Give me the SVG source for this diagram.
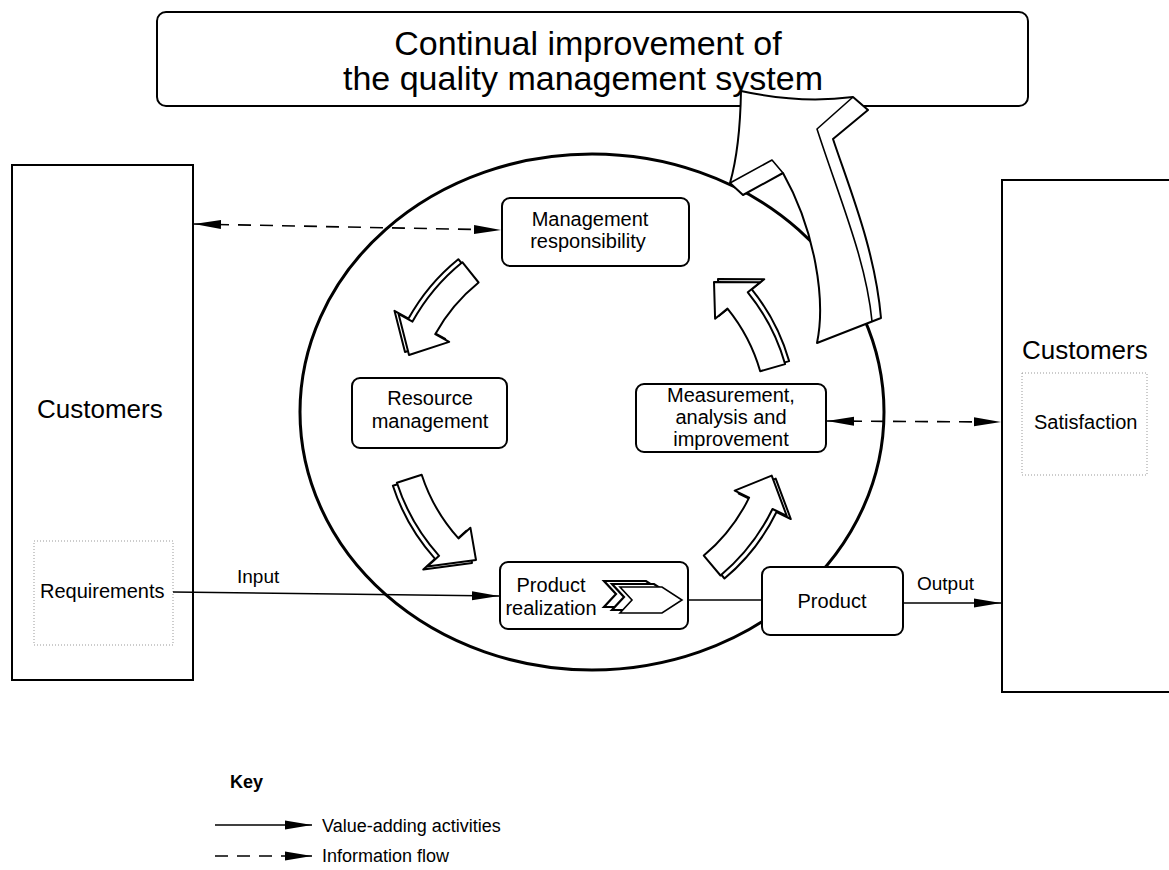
<svg xmlns="http://www.w3.org/2000/svg" width="1169" height="870" viewBox="0 0 1169 870">
<defs>
<style>
.box{fill:#fff;stroke:#000;stroke-width:2}
.cust{fill:none;stroke:#000;stroke-width:2}
.dot{fill:none;stroke:#999;stroke-width:1;stroke-dasharray:1 2}
.t{font-family:"Liberation Sans",Arial,sans-serif;fill:#000}
.line{fill:none;stroke:#000;stroke-width:1.6}
.dash{fill:none;stroke:#000;stroke-width:1.6;stroke-dasharray:13 9}
.arr{fill:#fff;stroke:#000;stroke-width:2;stroke-linejoin:round}
.thin{fill:none;stroke:#000;stroke-width:1.6;stroke-linejoin:round}
</style>
<marker id="ah" markerUnits="userSpaceOnUse" markerWidth="28" markerHeight="12" refX="27" refY="6" orient="auto-start-reverse" viewBox="0 0 28 12">
<path d="M0,1.5 L27,6 L0,10.5 Z" fill="#000"/>
</marker>
<path id="a1" d="M 462.3 262.2 A 203 203 0 0 0 412.5 321.6 L 398.5 313.8 L 409 355 L 449.2 341.9 L 435.2 334.2 A 177 177 0 0 1 478.6 282.5 Z"/>
<path id="a2" d="M 396.9 482.7 A 203 203 0 0 0 439.1 555.8 L 427.3 566.5 L 476 560 L 470.4 527.7 L 458.5 538.4 A 177 177 0 0 1 421.7 474.7 Z"/>
<path id="a3" d="M 720.5 575.5 A 203 203 0 0 0 772.5 509 L 786.8 516 L 771.7 475.6 L 734.7 490.6 L 749.1 497.6 A 177 177 0 0 1 703.8 555.6 Z"/>
<path id="a4" d="M 785.1 364.1 A 203 203 0 0 0 747.8 292.3 L 760.2 282.2 L 714 282 L 715.1 318.7 L 727.5 308.6 A 177 177 0 0 1 760.2 371.2 Z"/>
<polygon id="chev" points="620,587 662,587 682,600 662,613 620,613 632,600"/>
</defs>

<g id="continual-improvement">
<rect class="box" x="157" y="12" width="871" height="94" rx="9"/>
<text class="t" x="588" y="55" font-size="34" text-anchor="middle">Continual improvement of</text>
<text class="t" x="583" y="90" font-size="34" text-anchor="middle">the quality management system</text>
</g>

<g id="customers-left">
<rect class="cust" x="12" y="165" width="181" height="515"/>
<text class="t" x="37" y="418" font-size="26">Customers</text>
<rect class="dot" x="34" y="541" width="139" height="104"/>
<text class="t" x="40" y="598" font-size="20">Requirements</text>
</g>

<g id="customers-right">
<rect class="cust" x="1002" y="180" width="180" height="512"/>
<text class="t" x="1022" y="359" font-size="26">Customers</text>
<rect class="dot" x="1022" y="373" width="125" height="102"/>
<text class="t" x="1034" y="429" font-size="20">Satisfaction</text>
</g>

<g id="qms-circle">
<ellipse cx="592" cy="412" rx="292" ry="258" fill="none" stroke="#000" stroke-width="3"/>
</g>

<g id="big-arrow">
<path class="arr" d="M 741 91 Q 800 104 853 97 L 868 110 L 833 139 C 850 190 875 250 881 318 L 817 343 C 826 300 815 230 783 173 L 743 195 L 730 183 Q 740 148 741 91 Z"/>
<path class="thin" d="M 853 97 L 817 129 C 840 200 866 260 872 321"/>
<path class="thin" d="M 730 183 L 772 160 L 783 173"/>
</g>

<g id="cycle-arrows">
<use href="#a1" class="arr" transform="translate(-4 -3)"/>
<use href="#a1" class="arr"/>
<use href="#a2" class="arr" transform="translate(-4 3)"/>
<use href="#a2" class="arr"/>
<use href="#a3" class="arr" transform="translate(4 3)"/>
<use href="#a3" class="arr"/>
<use href="#a4" class="arr" transform="translate(4 -3)"/>
<use href="#a4" class="arr"/>
</g>

<g id="management-responsibility">
<rect class="box" x="502" y="198" width="187" height="68" rx="8"/>
<text class="t" x="590" y="226" font-size="20" text-anchor="middle">Management</text>
<text class="t" x="588" y="248" font-size="20" text-anchor="middle">responsibility</text>
</g>

<g id="resource-management">
<rect class="box" x="352" y="378" width="155" height="70" rx="8"/>
<text class="t" x="430" y="405" font-size="20" text-anchor="middle">Resource</text>
<text class="t" x="430" y="428" font-size="20" text-anchor="middle">management</text>
</g>

<g id="measurement">
<rect class="box" x="636" y="384" width="190" height="68" rx="8"/>
<text class="t" x="731" y="402" font-size="20" text-anchor="middle">Measurement,</text>
<text class="t" x="731" y="424" font-size="20" text-anchor="middle">analysis and</text>
<text class="t" x="731" y="446" font-size="20" text-anchor="middle">improvement</text>
</g>

<g id="product-realization">
<rect class="box" x="500" y="562" width="188" height="67" rx="8"/>
<text class="t" x="551" y="592" font-size="20" text-anchor="middle">Product</text>
<text class="t" x="551" y="615" font-size="20" text-anchor="middle">realization</text>
<use href="#chev" transform="translate(-16 -6)" fill="#fff" stroke="#000" stroke-width="2.2"/>
<use href="#chev" transform="translate(-8 -3)" fill="#fff" stroke="#000" stroke-width="2.2"/>
<use href="#chev" fill="#fff" stroke="#000" stroke-width="1.6"/>
</g>

<g id="product">
<rect class="box" x="762" y="567" width="141" height="68" rx="8"/>
<text class="t" x="832" y="608" font-size="20" text-anchor="middle">Product</text>
</g>

<g id="connectors">
<path class="dash" d="M 194 224 L 501 230" marker-start="url(#ah)" marker-end="url(#ah)"/>
<path class="dash" d="M 827 421 L 1001 422" marker-start="url(#ah)" marker-end="url(#ah)"/>
<path class="line" d="M 173 592 L 499 596" marker-end="url(#ah)"/>
<path class="line" d="M 688 600 L 762 600"/>
<path class="line" d="M 903 603 L 1001 603" marker-end="url(#ah)"/>
<text class="t" x="237" y="583" font-size="19">Input</text>
<text class="t" x="917" y="590" font-size="19">Output</text>
</g>

<g id="key">
<text class="t" x="230" y="788" font-size="18" font-weight="bold">Key</text>
<path class="line" d="M 215 825 L 312 825" marker-end="url(#ah)"/>
<text class="t" x="322" y="832" font-size="18">Value-adding activities</text>
<path class="dash" d="M 215 856 L 312 856" stroke-dasharray="14 10" marker-end="url(#ah)"/>
<text class="t" x="322" y="862" font-size="18">Information flow</text>
</g>
</svg>
